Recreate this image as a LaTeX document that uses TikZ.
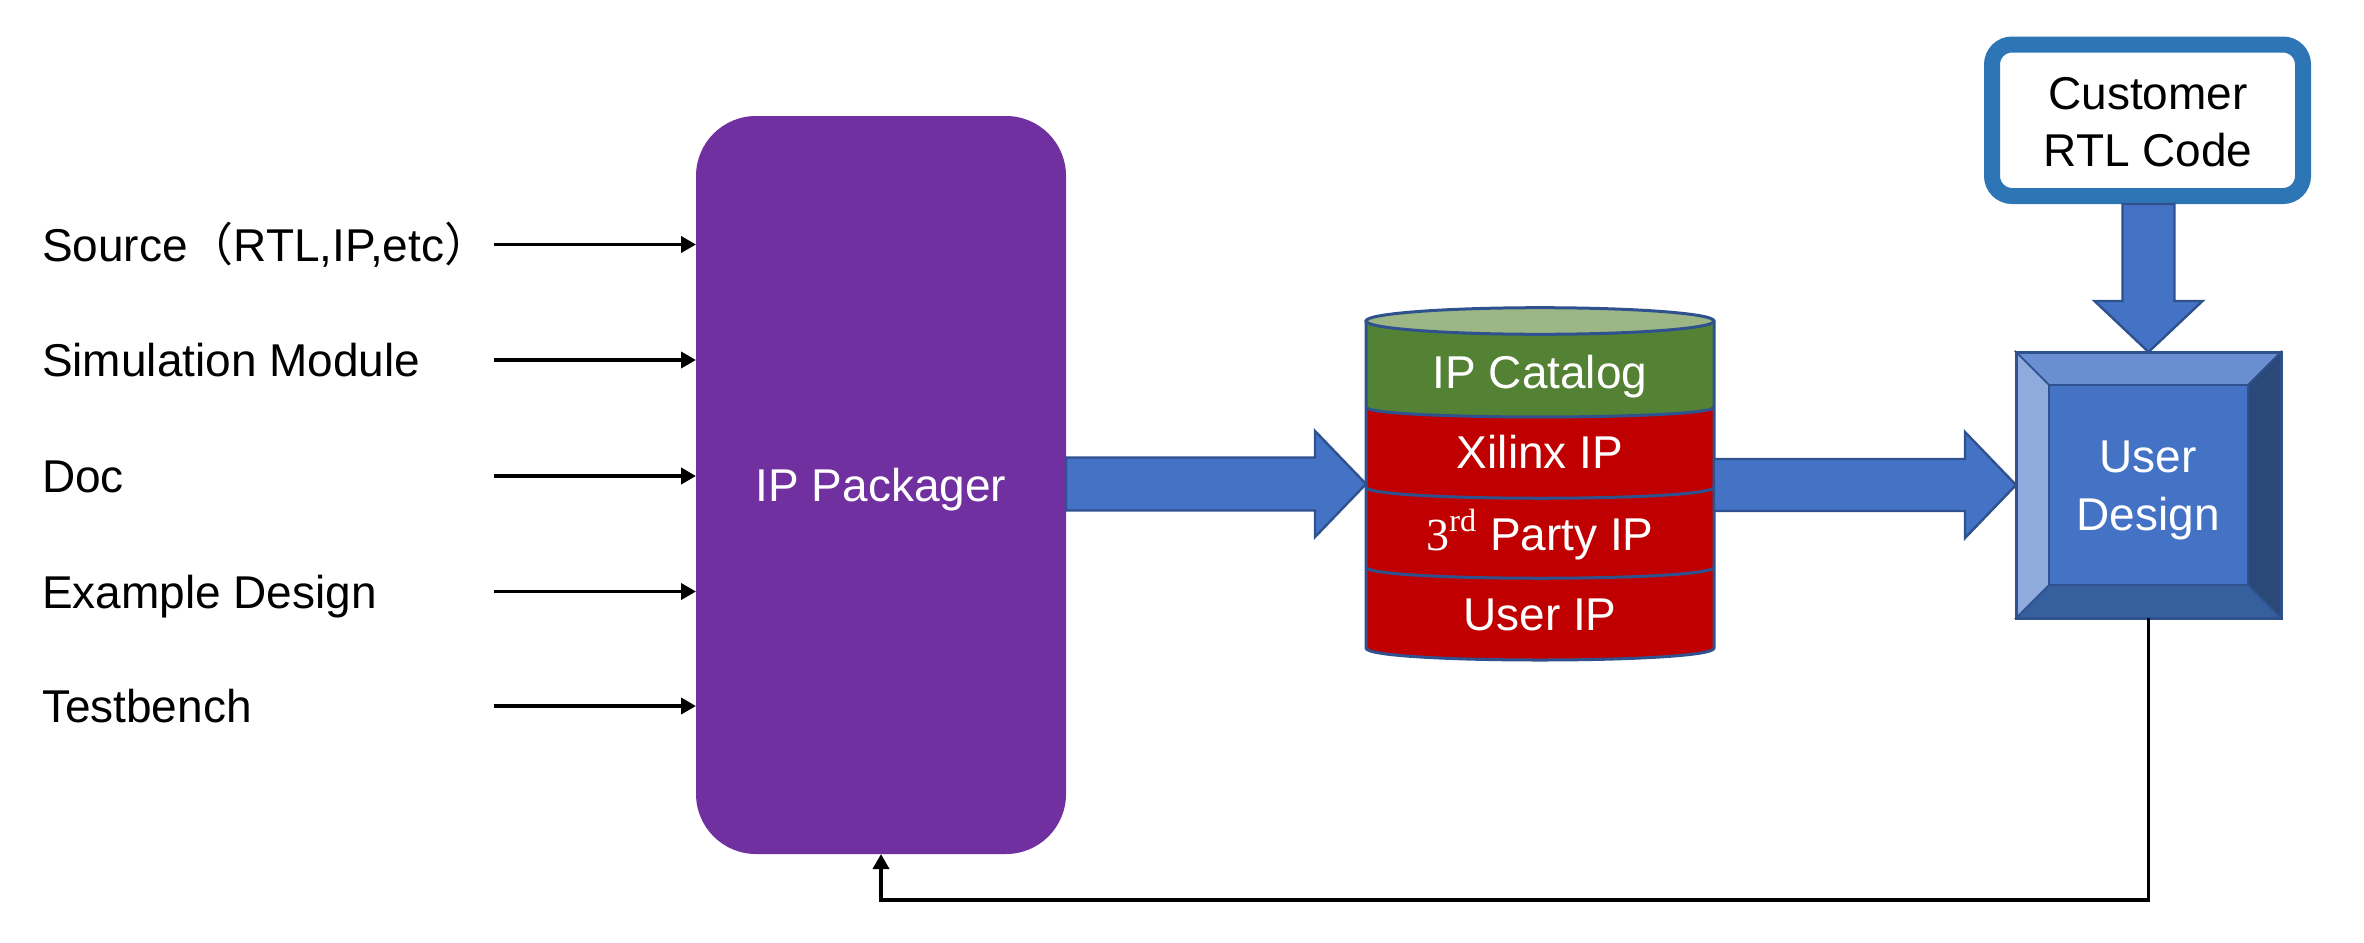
\documentclass[tikz,border=0pt]{standalone}
\usepackage{fontspec}
\setmainfont{Liberation Sans}
\newfontfamily\cjkfont{Noto Sans CJK SC}
\newfontfamily\serifthree{Liberation Serif}
\usetikzlibrary{arrows.meta,calc}
\definecolor{ppurple}{HTML}{7030A0}
\definecolor{blockblue}{HTML}{4472C4}
\definecolor{blockedge}{HTML}{2F528F}
\definecolor{ipgreen}{HTML}{548235}
\definecolor{toplight}{HTML}{9CB686}
\definecolor{ipred}{HTML}{C00000}
\definecolor{custblue}{HTML}{2E75B6}
\definecolor{bevtop}{HTML}{6A8FD0}
\definecolor{bevleft}{HTML}{8FAADC}
\definecolor{bevright}{HTML}{2A4878}
\definecolor{bevbottom}{HTML}{365F9E}
\begin{document}
\begin{tikzpicture}[x=0.5pt,y=-0.5pt,
  lbl/.style={font=\fontsize{23}{28}\selectfont, inner sep=0pt, outer sep=0pt, text height=16.5pt, text depth=0pt},
  wlbl/.style={lbl, text=white},
  inarrow/.style={line width=1.9pt, -{Triangle[length=7.5pt,width=8pt]}},
  barrow/.style={fill=blockblue, draw=blockedge, line width=1.2pt, line join=miter},
  cylline/.style={draw=blockedge, line width=1.5pt},
  bevel/.style={draw=blockedge, line width=0.8pt, line join=miter}]
\useasboundingbox (0,0) rectangle (2364,942);

% IP Packager
\node[fill=ppurple, rounded corners=30pt, minimum width=185pt, minimum height=369pt, inner sep=0pt, outer sep=0pt] (pack) at (881,485) {};
\node[wlbl] (packlbl) at (pack.center) {IP Packager};

% inputs
\node[lbl, anchor=west] (l1) at (42,244.5) {Source{\cjkfont （}RTL,IP,etc{\cjkfont ）}};
\node[lbl, anchor=west] (l2) at (42,360) {Simulation Module};
\node[lbl, anchor=west] (l3) at (42,476) {Doc};
\node[lbl, anchor=west] (l4) at (42,591.5) {Example Design};
\node[lbl, anchor=west] (l5) at (42,706) {Testbench};
\coordinate (a1) at (494,244.5);
\coordinate (a2) at (494,360);
\coordinate (a3) at (494,476);
\coordinate (a4) at (494,591.5);
\coordinate (a5) at (494,706);
\foreach \i in {1,...,5} { \draw[inarrow] (a\i) -- (a\i -| pack.west); }

% cylinder
\node[minimum width=174pt, minimum height=176pt, inner sep=0pt, outer sep=0pt] (cyl) at (1540,484) {};
\fill[ipred] (1366,321) -- (1366,648) .. controls (1366,664) and (1714,664) .. (1714,648) -- (1714,321) -- cycle;
\fill[ipgreen] (1366,321) -- (1366,407) .. controls (1366,420.3) and (1714,420.3) .. (1714,407) -- (1714,321) -- cycle;
\draw[cylline] (1366,407) .. controls (1366,420.3) and (1714,420.3) .. (1714,407);
\draw[cylline] (1366,487) .. controls (1366,502) and (1714,502) .. (1714,487);
\draw[cylline] (1366,567) .. controls (1366,582) and (1714,582) .. (1714,567);
\draw[cylline] (1366,321) -- (1366,648) .. controls (1366,664) and (1714,664) .. (1714,648) -- (1714,321);
\filldraw[fill=toplight, cylline] (1540,321) ellipse [x radius=87pt, y radius=6.65pt];
\node[wlbl] (t1) at (1540,371.5) {IP Catalog};
\node[wlbl] (t2) at (1540,451.5) {Xilinx IP};
\node[wlbl] (t3) at (1540,533.5) {{\serifthree 3\textsuperscript{rd}} Party IP};
\node[wlbl] (t4) at (1540,613.5) {User IP};

% customer RTL code
\node[draw=custblue, line width=8pt, rounded corners=10pt, fill=white, minimum width=155.5pt, minimum height=75.75pt, inner sep=0pt] (cust) at (2147.5,120.25) {};
\node[lbl] (c1) at (2148,93.4) {Customer};
\node[lbl] (c2) at (2148,150) {RTL Code};

% user design (bevel)
\node[minimum width=132.5pt, minimum height=133pt, inner sep=0pt, outer sep=0pt] (ud) at (2148.5,485) {};
\filldraw[bevel, fill=bevtop] (ud.north west) -- (ud.north east) -- ($(ud.north east)+(-33,33)$) -- ($(ud.north west)+(33,33)$) -- cycle;
\filldraw[bevel, fill=bevright] (ud.north east) -- (ud.south east) -- ($(ud.south east)+(-33,-33)$) -- ($(ud.north east)+(-33,33)$) -- cycle;
\filldraw[bevel, fill=bevbottom] (ud.south east) -- (ud.south west) -- ($(ud.south west)+(33,-33)$) -- ($(ud.south east)+(-33,-33)$) -- cycle;
\filldraw[bevel, fill=bevleft] (ud.south west) -- (ud.north west) -- ($(ud.north west)+(33,33)$) -- ($(ud.south west)+(33,-33)$) -- cycle;
\filldraw[bevel, fill=blockblue] ($(ud.north west)+(33,33)$) rectangle ($(ud.south east)+(-33,-33)$);
\draw[draw=blockedge, line width=1.5pt] (ud.north west) rectangle (ud.south east);
\node[wlbl] (u1) at (2148,456) {User};
\node[wlbl] (u2) at (2148,514) {Design};

% block arrows
\filldraw[barrow] let \p1=(pack.east), \p2=(cyl.west) in
  (\x1,\y2+13.25pt) -- (\x2-25.5pt,\y2+13.25pt) -- (\x2-25.5pt,\y2+26.5pt) -- (\x2,\y2)
  -- (\x2-25.5pt,\y2-26.5pt) -- (\x2-25.5pt,\y2-13.25pt) -- (\x1,\y2-13.25pt) -- cycle;
\filldraw[barrow] let \p1=(cyl.east), \p2=(ud.west) in
  (\x1,\y2+13pt) -- (\x2-25.5pt,\y2+13pt) -- (\x2-25.5pt,\y2+26.5pt) -- (\x2,\y2)
  -- (\x2-25.5pt,\y2-26.5pt) -- (\x2-25.5pt,\y2-13pt) -- (\x1,\y2-13pt) -- cycle;
\filldraw[barrow] let \p1=(cust.south), \p2=(ud.north) in
  (\x2-13pt,\y1) -- (\x2-13pt,\y2+25.5pt) -- (\x2-27pt,\y2+25.5pt) -- (\x2,\y2)
  -- (\x2+27pt,\y2+25.5pt) -- (\x2+13pt,\y2+25.5pt) -- (\x2+13pt,\y1) -- cycle;

% feedback
\coordinate (fb) at (0,900);
\draw[inarrow, line width=1.8pt] (ud.south) |- (pack.south |- fb) -- (pack.south);
\end{tikzpicture}
\end{document}
